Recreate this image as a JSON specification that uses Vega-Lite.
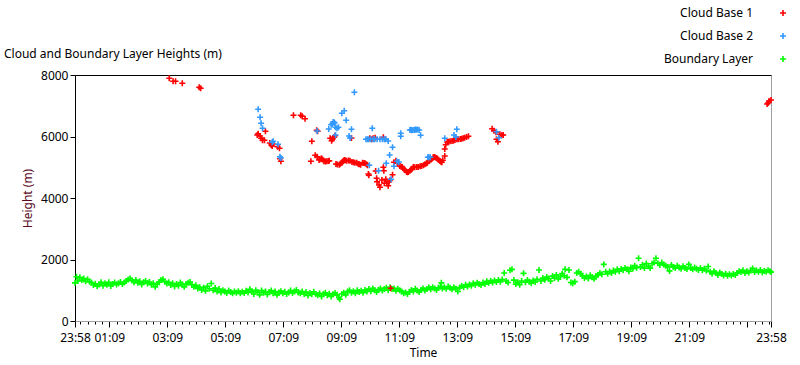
{
  "$schema": "https://vega.github.io/schema/vega-lite/v6.json",
  "width": 696,
  "height": 246,
  "autosize": {"type": "none"},
  "padding": {"left": 75, "top": 75, "right": 29, "bottom": 44},
  "background": "white",
  "title": {"text": "Cloud and Boundary Layer Heights (m)", "anchor": "start", "frame": "group", "orient": "top", "dx": -71, "dy": 67, "offset": 13, "fontSize": 12, "fontWeight": "normal", "color": "#000000", "font": "Noto Sans"},
  "config": {
    "view": {"stroke": "#a0a0a0", "strokeWidth": 1},
    "font": "Noto Sans",
    "axis": {"grid": false, "labelFont": "Noto Sans", "titleFont": "Noto Sans", "labelFontSize": 12, "titleFontSize": 12, "titleFontWeight": "normal", "labelColor": "#000000", "tickColor": "#000000"}
  },
  "datasets": {
    "bl": [
      {"t":0,"h":1240},{"t":3,"h":1440},{"t":6,"h":1300},{"t":10,"h":1420},{"t":14,"h":1330},{"t":18,"h":1380},{"t":22,"h":1290},{"t":26,"h":1360},{"t":30,"h":1280},{"t":34,"h":1250},{"t":38,"h":1170},{"t":42,"h":1210},{"t":46,"h":1130},{"t":50,"h":1190},{"t":54,"h":1260},{"t":58,"h":1150},{"t":62,"h":1230},{"t":66,"h":1180},{"t":70,"h":1260},{"t":74,"h":1140},{"t":78,"h":1200},{"t":82,"h":1250},{"t":86,"h":1190},{"t":90,"h":1230},{"t":94,"h":1270},{"t":98,"h":1200},{"t":102,"h":1250},{"t":106,"h":1300},{"t":110,"h":1350},{"t":114,"h":1380},{"t":118,"h":1320},{"t":122,"h":1260},{"t":126,"h":1330},{"t":130,"h":1240},{"t":134,"h":1290},{"t":138,"h":1190},{"t":142,"h":1260},{"t":146,"h":1300},{"t":150,"h":1220},{"t":154,"h":1270},{"t":158,"h":1180},{"t":162,"h":1230},{"t":166,"h":1110},{"t":170,"h":1200},{"t":174,"h":1260},{"t":178,"h":1330},{"t":182,"h":1360},{"t":186,"h":1280},{"t":190,"h":1220},{"t":194,"h":1260},{"t":198,"h":1170},{"t":202,"h":1230},{"t":206,"h":1120},{"t":210,"h":1200},{"t":214,"h":1150},{"t":218,"h":1250},{"t":222,"h":1190},{"t":226,"h":1110},{"t":230,"h":1200},{"t":234,"h":1240},{"t":238,"h":1270},{"t":242,"h":1180},{"t":246,"h":1110},{"t":250,"h":1160},{"t":254,"h":1060},{"t":258,"h":1100},{"t":262,"h":1010},{"t":266,"h":1080},{"t":270,"h":980},{"t":274,"h":1130},{"t":278,"h":1050},{"t":282,"h":1220},{"t":286,"h":1000},{"t":290,"h":1070},{"t":294,"h":960},{"t":298,"h":1040},{"t":302,"h":930},{"t":306,"h":1000},{"t":310,"h":960},{"t":314,"h":910},{"t":318,"h":990},{"t":322,"h":940},{"t":326,"h":900},{"t":330,"h":960},{"t":334,"h":920},{"t":338,"h":970},{"t":342,"h":900},{"t":346,"h":950},{"t":350,"h":910},{"t":354,"h":980},{"t":358,"h":930},{"t":362,"h":1030},{"t":366,"h":960},{"t":370,"h":880},{"t":374,"h":1000},{"t":378,"h":940},{"t":382,"h":850},{"t":386,"h":990},{"t":390,"h":920},{"t":394,"h":960},{"t":398,"h":860},{"t":402,"h":940},{"t":406,"h":990},{"t":410,"h":900},{"t":414,"h":960},{"t":418,"h":850},{"t":422,"h":930},{"t":426,"h":970},{"t":430,"h":900},{"t":434,"h":950},{"t":438,"h":880},{"t":442,"h":930},{"t":446,"h":990},{"t":450,"h":910},{"t":454,"h":960},{"t":458,"h":1010},{"t":462,"h":930},{"t":466,"h":900},{"t":470,"h":960},{"t":474,"h":880},{"t":478,"h":940},{"t":482,"h":830},{"t":486,"h":910},{"t":490,"h":870},{"t":494,"h":950},{"t":498,"h":880},{"t":502,"h":840},{"t":506,"h":900},{"t":510,"h":800},{"t":514,"h":880},{"t":518,"h":920},{"t":522,"h":840},{"t":526,"h":890},{"t":530,"h":800},{"t":534,"h":870},{"t":538,"h":910},{"t":542,"h":850},{"t":546,"h":760},{"t":548,"h":705},{"t":552,"h":880},{"t":556,"h":920},{"t":560,"h":850},{"t":564,"h":960},{"t":568,"h":1000},{"t":572,"h":920},{"t":576,"h":970},{"t":580,"h":900},{"t":584,"h":1000},{"t":588,"h":940},{"t":592,"h":980},{"t":596,"h":920},{"t":600,"h":1010},{"t":604,"h":960},{"t":608,"h":1040},{"t":612,"h":970},{"t":616,"h":1060},{"t":620,"h":1000},{"t":624,"h":940},{"t":628,"h":1020},{"t":632,"h":1060},{"t":636,"h":990},{"t":640,"h":1040},{"t":644,"h":1080},{"t":648,"h":1000},{"t":652,"h":1100},{"t":656,"h":1040},{"t":660,"h":1060},{"t":664,"h":980},{"t":668,"h":1050},{"t":672,"h":1000},{"t":676,"h":960},{"t":680,"h":900},{"t":684,"h":930},{"t":688,"h":880},{"t":692,"h":950},{"t":696,"h":1010},{"t":700,"h":960},{"t":704,"h":1050},{"t":708,"h":990},{"t":712,"h":940},{"t":716,"h":1010},{"t":720,"h":1060},{"t":724,"h":990},{"t":728,"h":1040},{"t":732,"h":1090},{"t":736,"h":1030},{"t":740,"h":1100},{"t":744,"h":1060},{"t":748,"h":1010},{"t":752,"h":1080},{"t":756,"h":1120},{"t":758,"h":1240},{"t":760,"h":1060},{"t":764,"h":1100},{"t":768,"h":1050},{"t":772,"h":1120},{"t":776,"h":1080},{"t":780,"h":1030},{"t":784,"h":1100},{"t":788,"h":1050},{"t":792,"h":960},{"t":796,"h":1090},{"t":800,"h":1140},{"t":804,"h":1100},{"t":808,"h":1180},{"t":812,"h":1120},{"t":816,"h":1190},{"t":820,"h":1150},{"t":824,"h":1230},{"t":828,"h":1180},{"t":832,"h":1240},{"t":836,"h":1200},{"t":840,"h":1170},{"t":844,"h":1250},{"t":848,"h":1200},{"t":852,"h":1290},{"t":856,"h":1240},{"t":860,"h":1300},{"t":864,"h":1250},{"t":868,"h":1320},{"t":872,"h":1270},{"t":876,"h":1330},{"t":880,"h":1280},{"t":884,"h":1350},{"t":888,"h":1560},{"t":892,"h":1300},{"t":896,"h":1250},{"t":900,"h":1650},{"t":904,"h":1680},{"t":908,"h":1330},{"t":912,"h":1200},{"t":916,"h":1260},{"t":920,"h":1180},{"t":924,"h":1300},{"t":928,"h":1550},{"t":932,"h":1260},{"t":936,"h":1330},{"t":940,"h":1280},{"t":944,"h":1230},{"t":948,"h":1320},{"t":952,"h":1270},{"t":956,"h":1360},{"t":960,"h":1660},{"t":964,"h":1300},{"t":968,"h":1400},{"t":972,"h":1340},{"t":976,"h":1430},{"t":980,"h":1380},{"t":984,"h":1300},{"t":988,"h":1460},{"t":992,"h":1400},{"t":996,"h":1500},{"t":1000,"h":1370},{"t":1004,"h":1440},{"t":1008,"h":1540},{"t":1012,"h":1470},{"t":1014,"h":1680},{"t":1018,"h":1420},{"t":1022,"h":1660},{"t":1026,"h":1250},{"t":1030,"h":1230},{"t":1034,"h":1280},{"t":1038,"h":1560},{"t":1042,"h":1600},{"t":1046,"h":1540},{"t":1050,"h":1470},{"t":1054,"h":1400},{"t":1058,"h":1450},{"t":1062,"h":1380},{"t":1066,"h":1490},{"t":1070,"h":1420},{"t":1074,"h":1370},{"t":1078,"h":1460},{"t":1082,"h":1500},{"t":1086,"h":1560},{"t":1090,"h":1520},{"t":1094,"h":1840},{"t":1098,"h":1600},{"t":1102,"h":1540},{"t":1106,"h":1610},{"t":1110,"h":1560},{"t":1114,"h":1640},{"t":1118,"h":1600},{"t":1122,"h":1680},{"t":1126,"h":1620},{"t":1130,"h":1690},{"t":1134,"h":1650},{"t":1138,"h":1720},{"t":1142,"h":1680},{"t":1146,"h":1620},{"t":1150,"h":1740},{"t":1154,"h":1700},{"t":1158,"h":1800},{"t":1162,"h":1730},{"t":1166,"h":2040},{"t":1170,"h":1760},{"t":1174,"h":1830},{"t":1178,"h":1720},{"t":1182,"h":1870},{"t":1186,"h":1780},{"t":1190,"h":1720},{"t":1194,"h":1860},{"t":1198,"h":1900},{"t":1202,"h":2040},{"t":1206,"h":1880},{"t":1210,"h":1820},{"t":1214,"h":1900},{"t":1218,"h":1840},{"t":1222,"h":1800},{"t":1226,"h":1760},{"t":1230,"h":1630},{"t":1234,"h":1820},{"t":1238,"h":1760},{"t":1242,"h":1720},{"t":1246,"h":1800},{"t":1250,"h":1740},{"t":1254,"h":1700},{"t":1258,"h":1780},{"t":1262,"h":1720},{"t":1266,"h":1690},{"t":1270,"h":1840},{"t":1274,"h":1720},{"t":1278,"h":1680},{"t":1282,"h":1740},{"t":1286,"h":1700},{"t":1290,"h":1660},{"t":1294,"h":1720},{"t":1298,"h":1650},{"t":1302,"h":1700},{"t":1306,"h":1640},{"t":1310,"h":1770},{"t":1314,"h":1600},{"t":1318,"h":1540},{"t":1322,"h":1620},{"t":1326,"h":1560},{"t":1330,"h":1500},{"t":1334,"h":1580},{"t":1338,"h":1530},{"t":1342,"h":1480},{"t":1346,"h":1540},{"t":1350,"h":1470},{"t":1354,"h":1520},{"t":1358,"h":1480},{"t":1362,"h":1530},{"t":1366,"h":1500},{"t":1370,"h":1560},{"t":1374,"h":1620},{"t":1378,"h":1590},{"t":1382,"h":1650},{"t":1386,"h":1560},{"t":1390,"h":1620},{"t":1394,"h":1580},{"t":1398,"h":1640},{"t":1402,"h":1710},{"t":1406,"h":1590},{"t":1410,"h":1640},{"t":1414,"h":1600},{"t":1418,"h":1660},{"t":1422,"h":1580},{"t":1426,"h":1630},{"t":1430,"h":1600},{"t":1434,"h":1650},{"t":1438,"h":1620},{"t":1440,"h":1590}
    ],
    "cb1": [
      {"t":195,"h":7893},{"t":203,"h":7795},{"t":208,"h":7795},{"t":222,"h":7730},{"t":257,"h":7600},{"t":260,"h":7568},{"t":377,"h":6049},{"t":379,"h":6091},{"t":383,"h":6016},{"t":385,"h":5941},{"t":388,"h":5876},{"t":392,"h":5876},{"t":394,"h":6169},{"t":403,"h":5789},{"t":406,"h":5724},{"t":408,"h":5691},{"t":410,"h":5756},{"t":419,"h":5668},{"t":423,"h":5616},{"t":424,"h":5278},{"t":426,"h":5193},{"t":452,"h":6689},{"t":467,"h":6689},{"t":470,"h":6657},{"t":476,"h":6579},{"t":488,"h":5193},{"t":490,"h":5844},{"t":500,"h":6202},{"t":502,"h":6169},{"t":497,"h":5389},{"t":501,"h":5343},{"t":505,"h":5236},{"t":507,"h":5260},{"t":510,"h":5291},{"t":512,"h":5250},{"t":515,"h":5193},{"t":518,"h":5190},{"t":521,"h":5193},{"t":524,"h":5200},{"t":526,"h":5213},{"t":528,"h":5941},{"t":531,"h":5863},{"t":533,"h":5919},{"t":536,"h":5974},{"t":538,"h":6026},{"t":540,"h":5106},{"t":543,"h":5090},{"t":547,"h":5083},{"t":549,"h":5110},{"t":552,"h":5148},{"t":555,"h":5200},{"t":557,"h":5236},{"t":559,"h":5230},{"t":562,"h":5213},{"t":566,"h":5220},{"t":569,"h":5213},{"t":572,"h":5951},{"t":573,"h":5170},{"t":576,"h":5161},{"t":579,"h":5150},{"t":583,"h":5148},{"t":586,"h":5106},{"t":588,"h":5100},{"t":591,"h":5083},{"t":595,"h":5148},{"t":598,"h":5140},{"t":600,"h":5128},{"t":603,"h":5100},{"t":605,"h":5063},{"t":607,"h":4780},{"t":608,"h":4738},{"t":610,"h":5941},{"t":614,"h":5909},{"t":617,"h":5941},{"t":621,"h":5961},{"t":622,"h":4878},{"t":624,"h":4641},{"t":625,"h":4530},{"t":629,"h":4423},{"t":631,"h":4348},{"t":635,"h":4585},{"t":638,"h":4998},{"t":639,"h":4888},{"t":638,"h":5974},{"t":640,"h":4478},{"t":643,"h":4608},{"t":645,"h":4478},{"t":648,"h":4400},{"t":650,"h":4530},{"t":652,"h":4585},{"t":653,"h":1065},{"t":657,"h":4758},{"t":660,"h":5161},{"t":664,"h":5213},{"t":667,"h":5128},{"t":672,"h":5041},{"t":675,"h":5020},{"t":677,"h":5008},{"t":680,"h":4950},{"t":683,"h":4901},{"t":686,"h":4846},{"t":688,"h":4840},{"t":690,"h":4846},{"t":693,"h":4888},{"t":695,"h":4920},{"t":697,"h":4953},{"t":700,"h":5008},{"t":703,"h":5000},{"t":707,"h":5008},{"t":710,"h":5010},{"t":714,"h":5031},{"t":717,"h":5040},{"t":721,"h":5063},{"t":724,"h":5096},{"t":727,"h":5120},{"t":729,"h":5148},{"t":733,"h":5213},{"t":736,"h":5240},{"t":738,"h":5268},{"t":741,"h":5323},{"t":743,"h":5330},{"t":745,"h":5323},{"t":748,"h":5300},{"t":750,"h":5278},{"t":752,"h":5240},{"t":755,"h":5203},{"t":757,"h":5180},{"t":759,"h":5161},{"t":761,"h":5226},{"t":765,"h":5366},{"t":765,"h":5594},{"t":767,"h":5733},{"t":770,"h":5821},{"t":773,"h":5830},{"t":776,"h":5844},{"t":780,"h":5850},{"t":783,"h":5863},{"t":786,"h":5890},{"t":790,"h":5909},{"t":793,"h":5910},{"t":797,"h":5919},{"t":800,"h":5930},{"t":803,"h":5941},{"t":806,"h":5960},{"t":810,"h":5984},{"t":814,"h":6006},{"t":863,"h":6254},{"t":867,"h":6189},{"t":871,"h":6137},{"t":872,"h":5909},{"t":875,"h":5831},{"t":879,"h":6072},{"t":883,"h":6039},{"t":886,"h":6049},{"t":1432,"h":7057},{"t":1434,"h":7090},{"t":1436,"h":7154},{"t":1440,"h":7187}
    ],
    "cb2": [
      {"t":379,"h":6885},{"t":383,"h":6624},{"t":385,"h":6429},{"t":388,"h":6267},{"t":408,"h":5811},{"t":410,"h":5844},{"t":420,"h":5746},{"t":424,"h":5343},{"t":426,"h":5301},{"t":501,"h":6179},{"t":525,"h":6244},{"t":530,"h":6380},{"t":532,"h":6406},{"t":534,"h":6471},{"t":536,"h":6460},{"t":537,"h":6439},{"t":539,"h":6299},{"t":542,"h":6267},{"t":545,"h":6299},{"t":539,"h":6049},{"t":552,"h":6755},{"t":557,"h":6839},{"t":561,"h":6527},{"t":567,"h":6016},{"t":569,"h":5951},{"t":572,"h":6234},{"t":578,"h":7437},{"t":602,"h":5909},{"t":605,"h":5909},{"t":608,"h":5909},{"t":612,"h":5909},{"t":615,"h":6267},{"t":617,"h":5909},{"t":620,"h":5909},{"t":625,"h":5909},{"t":631,"h":5909},{"t":636,"h":5909},{"t":640,"h":5909},{"t":643,"h":5909},{"t":648,"h":5854},{"t":657,"h":5649},{"t":651,"h":5398},{"t":644,"h":5128},{"t":628,"h":4888},{"t":609,"h":5063},{"t":666,"h":5193},{"t":670,"h":5171},{"t":660,"h":5031},{"t":654,"h":4608},{"t":674,"h":6006},{"t":674,"h":6104},{"t":693,"h":6211},{"t":695,"h":6220},{"t":697,"h":6200},{"t":699,"h":6211},{"t":702,"h":6215},{"t":704,"h":6230},{"t":706,"h":6221},{"t":709,"h":6225},{"t":712,"h":6211},{"t":715,"h":6039},{"t":730,"h":5323},{"t":732,"h":5323},{"t":735,"h":5323},{"t":765,"h":5941},{"t":784,"h":6049},{"t":788,"h":5984},{"t":790,"h":6234},{"t":872,"h":6156},{"t":877,"h":5961}
    ]
  },
  "layer": [
    {
      "data": {"name": "bl"},
      "mark": {"type": "point", "shape": "M-1,0H1M0,-1V1", "filled": false, "size": 36, "strokeWidth": 1.6, "opacity": 1},
      "encoding": {
        "x": {"field": "t", "type": "quantitative", "scale": {"domain": [0, 1440], "nice": false, "zero": false},
          "axis": {"orient": "bottom", "title": "Time", "titleColor": "#000000", "titlePadding": 4, "domainColor": "#a0a0a0",
            "values": [0,11,26,41,56,71,86,101,116,131,146,161,176,191,206,221,236,251,266,281,296,311,326,341,356,371,386,401,416,431,446,461,476,491,506,521,536,551,566,581,596,611,626,641,656,671,686,701,716,731,746,761,776,791,806,821,836,851,866,881,896,911,926,941,956,971,986,1001,1016,1031,1046,1061,1076,1091,1106,1121,1136,1151,1166,1181,1196,1211,1226,1241,1256,1271,1286,1301,1316,1331,1346,1361,1376,1391,1406,1421,1436,1440],
            "tickSize": {"condition": {"test": "datum.value == 0 || datum.value == 1440 || (datum.value - 71) % 120 == 0", "value": 6}, "value": 3},
            "labelExpr": "(datum.value == 0 || datum.value == 1440 || ((datum.value - 71) % 120 == 0 && datum.value != 1391)) ? utcFormat((datum.value + 1438) * 60000, '%H:%M') : ''",
            "labelOverlap": false, "labelFlush": false, "labelBound": false, "labelPadding": 5}},
        "y": {"field": "h", "type": "quantitative", "scale": {"domain": [0, 8000], "nice": false},
          "axis": {"title": "Height (m)", "titleColor": "#5a0a1e", "titlePadding": 6, "format": "d", "values": [0,1000,2000,3000,4000,5000,6000,7000,8000], "tickSize": 5, "labelPadding": 2, "domainColor": "#000000"}},
        "color": {"datum": "Boundary Layer", "type": "nominal",
          "scale": {"domain": ["Cloud Base 1", "Cloud Base 2", "Boundary Layer"], "range": ["#ff0000", "#3399ff", "#00ff00"]},
          "legend": {"orient": "none", "legendX": 702, "legendY": -68, "title": null, "labelAlign": "right", "labelOffset": -36, "symbolType": "M-1,0H1M0,-1V1", "symbolSize": 36, "symbolStrokeWidth": 1.6, "symbolFillColor": "transparent", "labelFontSize": 12, "labelColor": "#000000", "rowPadding": 9, "labelLimit": 200}}
      }
    },
    {
      "data": {"name": "cb1"},
      "mark": {"type": "point", "shape": "M-1,0H1M0,-1V1", "filled": false, "size": 36, "strokeWidth": 1.6, "opacity": 1},
      "encoding": {
        "x": {"field": "t", "type": "quantitative", "axis": null},
        "y": {"field": "h", "type": "quantitative"},
        "color": {"datum": "Cloud Base 1", "type": "nominal"}
      }
    },
    {
      "data": {"name": "cb2"},
      "mark": {"type": "point", "shape": "M-1,0H1M0,-1V1", "filled": false, "size": 36, "strokeWidth": 1.6, "opacity": 1},
      "encoding": {
        "x": {"field": "t", "type": "quantitative", "axis": null},
        "y": {"field": "h", "type": "quantitative"},
        "color": {"datum": "Cloud Base 2", "type": "nominal"}
      }
    },
    {
      "data": {"name": "cb2"},
      "mark": {"type": "point", "opacity": 0},
      "encoding": {
        "x": {"field": "t", "type": "quantitative", "axis": {"orient": "top", "labels": false, "ticks": false, "domainColor": "#000000", "title": null}},
        "y": {"field": "h", "type": "quantitative"}
      }
    }
  ],
  "resolve": {"axis": {"x": "independent"}}
}
